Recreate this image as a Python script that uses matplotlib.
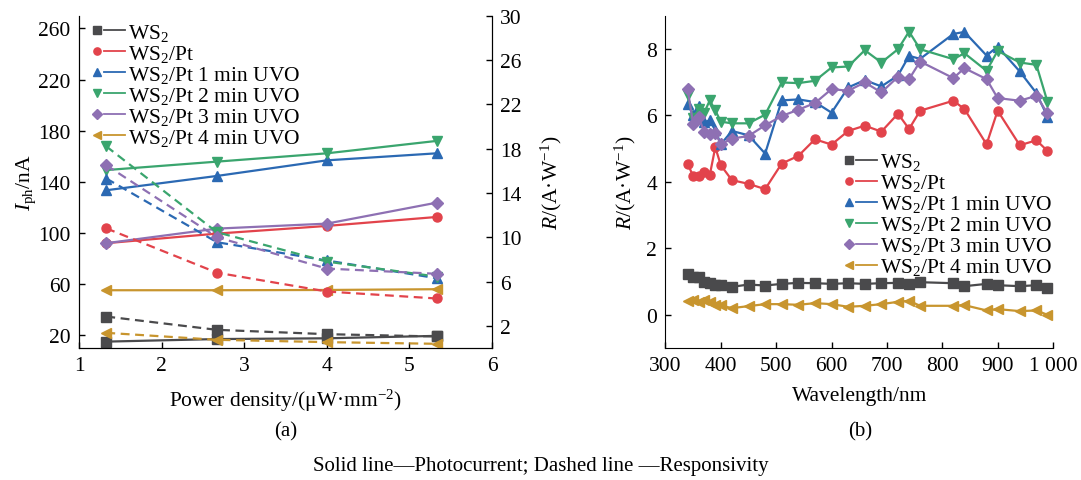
import numpy as np
import matplotlib
matplotlib.use("Agg")
import matplotlib.pyplot as plt
from matplotlib.lines import Line2D
from matplotlib.legend_handler import HandlerBase
from matplotlib.ticker import FuncFormatter

plt.rcParams['font.family'] = ['Liberation Serif', 'DejaVu Serif']
plt.rcParams['mathtext.fontset'] = 'custom'
plt.rcParams['mathtext.rm'] = 'Liberation Serif'
plt.rcParams['mathtext.it'] = 'Liberation Serif:italic'
plt.rcParams['font.size'] = 15.5

names = ["WS$_2$", "WS$_2$/Pt", "WS$_2$/Pt 1 min UVO", "WS$_2$/Pt 2 min UVO",
         "WS$_2$/Pt 3 min UVO", "WS$_2$/Pt 4 min UVO"]
colors = ['#4a4a4c', '#e2434b', '#2b69b3', '#3aa56e', '#8e70b3', '#c8952e']
markers = ['s', 'o', '^', 'v', 'D', '<']
msizes = [6.5, 6.5, 6.5, 6.5, 6, 6.5]

# (a) photocurrent / responsivity vs power density
power = [1.33, 2.67, 4.0, 5.33]
iph = [
    [15, 17, 17.6, 19.5],
    [92, 99.5, 105.5, 112.5],
    [133.4, 144.6, 156.8, 162.3],
    [149.2, 155.8, 162.3, 172],
    [92, 103.4, 107.3, 123.7],
    [55.2, 55.2, 55.4, 56],
]
resp_p = [
    [2.84, 1.64, 1.25, 1.04],
    [10.8, 6.8, 5.1, 4.47],
    [15.3, 9.55, 7.9, 6.3],
    [18.2, 10.45, 7.8, 6.45],
    [16.5, 10.0, 7.17, 6.7],
    [1.37, 0.74, 0.53, 0.38],
]

# (b) responsivity vs wavelength
wl = [340, 350, 360, 370, 380, 390, 400, 420, 450, 480, 510, 540, 570, 600, 630,
      660, 690, 720, 740, 760, 820, 840, 880, 900, 940, 970, 990]
r_ws2 = [1.24, 1.13, 1.13, 0.98, 0.96, 0.89, 0.89, 0.84, 0.91, 0.88, 0.93, 0.96, 0.95, 0.93,
         0.95, 0.93, 0.95, 0.96, 0.94, 0.98, 0.95, 0.86, 0.93, 0.89, 0.86, 0.89, 0.81]
r_pt = [4.55, 4.17, 4.18, 4.29, 4.2, 5.04, 4.5, 4.05, 3.94, 3.78, 4.55, 4.78, 5.28, 5.12,
        5.53, 5.69, 5.51, 6.05, 5.59, 6.14, 6.44, 6.19, 5.13, 6.14, 5.1, 5.25, 4.93]
r_1min = [6.35, 6.0, 6.27, 5.79, 5.85, 5.55, 5.13, 5.53, 5.4, 4.85, 6.45, 6.48, 6.4, 6.08,
          6.84, 7.06, 6.87, 7.2, 7.79, 7.7, 8.45, 8.51, 7.8, 8.07, 7.32, 6.67, 5.96]
r_2min = [6.61, 5.93, 6.18, 6.08, 6.45, 6.15, 5.81, 5.76, 5.76, 6.02, 6.99, 6.97, 7.04, 7.44,
          7.47, 7.96, 7.59, 7.99, 8.52, 7.99, 7.69, 7.87, 7.34, 7.94, 7.59, 7.52, 6.41]
r_3min = [6.79, 5.75, 5.95, 5.5, 5.43, 5.48, 5.13, 5.3, 5.38, 5.7, 5.98, 6.17, 6.37, 6.79,
          6.74, 6.99, 6.69, 7.16, 7.09, 7.62, 7.12, 7.42, 7.09, 6.52, 6.44, 6.59, 6.06]
r_4min = [0.4, 0.43, 0.38, 0.43, 0.38, 0.3, 0.28, 0.2, 0.26, 0.32, 0.32, 0.3, 0.35, 0.32,
          0.24, 0.27, 0.32, 0.39, 0.42, 0.27, 0.27, 0.29, 0.13, 0.17, 0.11, 0.13, 0.0]
r_wl = [r_ws2, r_pt, r_1min, r_2min, r_3min, r_4min]


class MarkerThenLine(HandlerBase):
    # legend key drawn as "marker —" (marker on the left, short line after it)
    def create_artists(self, legend, orig_handle, xdescent, ydescent, width, height,
                       fontsize, trans):
        col, mk, ms = orig_handle
        y = height / 2 - ydescent
        m = Line2D([3.8 - xdescent], [y], color=col, marker=mk, ms=ms * 0.8, ls='none')
        ln = Line2D([8.5 - xdescent, width - xdescent], [y, y], color=col, lw=1.3)
        m.set_transform(trans)
        ln.set_transform(trans)
        return [m, ln]


fig = plt.figure(figsize=(10.81, 4.81), dpi=100)
ax1 = fig.add_axes([0.0731, 0.2744, 0.382, 0.691])
ax2 = ax1.twinx()
ax3 = fig.add_axes([0.6156, 0.2744, 0.3585, 0.691])

dash = (0, (4, 2.5))
for i in range(6):
    ax1.plot(power, iph[i], color=colors[i], marker=markers[i], ms=msizes[i], lw=1.6)
    ax2.plot(power, resp_p[i], color=colors[i], marker=markers[i], ms=msizes[i], lw=1.6,
             linestyle=dash)
    ax3.plot(wl, r_wl[i], color=colors[i], marker=markers[i], ms=msizes[i], lw=1.6)

ax1.set_xlim(1, 6)
ax1.set_ylim(10, 270)
ax1.set_yticks(range(20, 261, 40))
ax2.set_ylim(0, 30)
ax2.set_yticks(range(2, 31, 4))
ax1.set_xlabel("Power density/(μW·mm$^{-2}$)", labelpad=8)
ax1.set_ylabel("$I_\\mathrm{ph}$/nA", labelpad=0)
ax2.set_ylabel("$R$/(A·W$^{-1}$)", labelpad=12)
for a in (ax1, ax2):
    a.spines['top'].set_visible(False)
    a.tick_params(direction='in', length=4, width=1, labelsize=15.5, pad=6)

ax3.set_xlim(300, 1000)
ax3.set_ylim(-1, 9)
ax3.set_yticks([0, 2, 4, 6, 8])
ax3.set_xticks(range(300, 1001, 100))
ax3.xaxis.set_major_formatter(FuncFormatter(lambda v, p: "1 000" if v == 1000 else f"{v:.0f}"))
ax3.set_xlabel("Wavelength/nm", labelpad=8)
ax3.set_ylabel("$R$/(A·W$^{-1}$)", labelpad=6)
ax3.spines['top'].set_visible(False)
ax3.spines['right'].set_visible(False)
ax3.tick_params(direction='in', length=4, width=1, labelsize=15.5, pad=6)

handles = [(colors[i], markers[i], msizes[i]) for i in range(6)]
leg_kw = dict(handler_map={tuple: MarkerThenLine()}, frameon=False,
              handlelength=1.55, handletextpad=0.15, labelspacing=0.0, fontsize=15.5,
              borderpad=0, borderaxespad=0)
ax1.legend(handles, names, loc='upper left', bbox_to_anchor=(0.031, 0.981), **leg_kw)
ax3.legend(handles, names, loc='upper left', bbox_to_anchor=(0.46, 0.592), **leg_kw)

fig.text(0.264, 0.102, "(a)", ha='center', va='center', fontsize=15)
fig.text(0.796, 0.102, "(b)", ha='center', va='center', fontsize=15)
fig.text(0.5, 0.03, "Solid line—Photocurrent; Dashed line —Responsivity",
         ha='center', va='center', fontsize=15)

fig.savefig("out.png", dpi=100)
